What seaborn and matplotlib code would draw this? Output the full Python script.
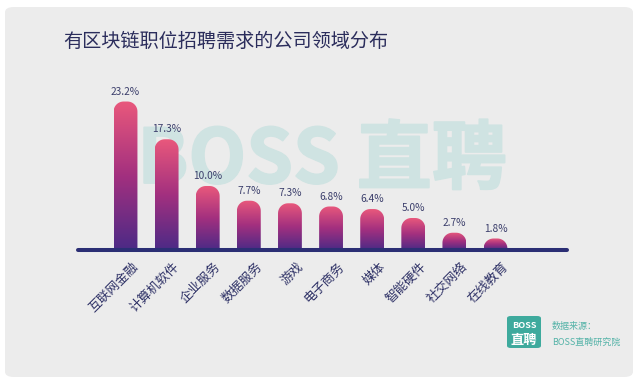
import numpy as np
import matplotlib
matplotlib.use("Agg")
import matplotlib.pyplot as plt
import matplotlib.patheffects as pe
import seaborn as sns
from matplotlib.path import Path
from matplotlib.patches import PathPatch, FancyBboxPatch
from matplotlib.colors import LinearSegmentedColormap
from matplotlib.transforms import ScaledTranslation

categories = ["互联网金融", "计算机软件", "企业服务", "数据服务", "游戏",
              "电子商务", "媒体", "智能硬件", "社交网络", "在线教育"]
shares = [23.2, 17.3, 10.0, 7.7, 7.3, 6.8, 6.4, 5.0, 2.7, 1.8]
title = "有区块链职位招聘需求的公司领域分布"

sns.set_theme(style="white")
plt.rcParams['font.family'] = ['Noto Sans CJK SC', 'DejaVu Sans']

W, H = 640, 382
fig = plt.figure(figsize=(W / 100, H / 100), dpi=100)
fig.patch.set_facecolor("white")

# grey card behind everything
card = FancyBboxPatch((5 / W, 5 / H), 628 / W, 370 / H,
                      boxstyle="round,pad=0,rounding_size=0.014",
                      transform=fig.transFigure, facecolor="#ececec",
                      edgecolor="none", zorder=-5)
fig.patches.append(card)

# watermark
wm_col = "#cfe3e2"
fig.text(322 / W, 1 - 161 / H, "BOSS 直聘", fontsize=54, fontweight="bold",
         color=wm_col, ha="center", va="center", zorder=-1,
         path_effects=[pe.withStroke(linewidth=1.3, foreground=wm_col)])

ax_left, ax_right, ax_base, ax_top = 78, 567, 250, 90
ax = fig.add_axes([ax_left / W, (H - ax_base) / H,
                   (ax_right - ax_left) / W, (ax_base - ax_top) / H])
ax.patch.set_visible(False)

sns.barplot(x=categories, y=shares, width=0.58, color="#a02f80", ax=ax)
ax.set_xlim(-1.156, 10.74)
ax.set_ylim(0, 25)

px_x = (ax_right - ax_left) / (10.74 + 1.156)
px_y = (ax_base - ax_top) / 25
r_px = 10
cmap = LinearSegmentedColormap.from_list("bar", ["#4c2a86", "#a3307f", "#e9587c"])
grad = np.linspace(0, 1, 256).reshape(-1, 1)

for p in ax.patches:
    x0, w, h = p.get_x(), p.get_width(), p.get_height()
    x1 = x0 + w
    rx = min(r_px / px_x, w / 2)
    ry = min(r_px / px_y, h)
    t = np.linspace(np.pi, np.pi / 2, 12)
    left_arc = [(x0 + rx + rx * np.cos(a), h - ry + ry * np.sin(a)) for a in t]
    t2 = np.linspace(np.pi / 2, 0, 12)
    right_arc = [(x1 - rx + rx * np.cos(a), h - ry + ry * np.sin(a)) for a in t2]
    verts = [(x0, 0)] + left_arc + right_arc + [(x1, 0), (x0, 0)]
    codes = [Path.MOVETO] + [Path.LINETO] * (len(verts) - 2) + [Path.CLOSEPOLY]
    clip = PathPatch(Path(verts, codes), transform=ax.transData,
                     facecolor="none", edgecolor="none")
    ax.add_patch(clip)
    im = ax.imshow(grad, cmap=cmap, origin="lower", aspect="auto",
                   extent=[x0, x1, 0, h], zorder=2)
    im.set_clip_path(clip)
    p.set_visible(False)

ax.set_xlim(-1.156, 10.74)
ax.set_ylim(0, 25)

for i, v in enumerate(shares):
    ax.annotate(f"{v:.1f}%", (i, v), xytext=(0, 3.5), textcoords="offset points",
                ha="center", va="bottom", fontsize=7.3, color="#3b3e6b",
                annotation_clip=False)

ax.axhline(0, color="#2b2e74", lw=2.9, zorder=4, clip_on=False)

sns.despine(ax=ax, left=True, bottom=True)
ax.set_yticks([])
ax.tick_params(axis="x", length=0, pad=0)
ax.set_xticks(range(len(categories)))
ax.set_xticklabels(categories, rotation=45, ha="right", va="center",
                   rotation_mode="anchor", fontsize=9.2, color="#2e3166")
offset = ScaledTranslation(11 / 100, -15 / 100, fig.dpi_scale_trans)
for lab in ax.get_xticklabels():
    lab.set_transform(lab.get_transform() + offset)
ax.set_xlabel("")
ax.set_ylabel("")

fig.text(63 / W, 1 - 41 / H, title, fontsize=13.8, color="#2b2d5c",
         ha="left", va="center")

# source logo
logo = FancyBboxPatch((507 / W, (H - 348) / H), 34 / W, 32 / H,
                      boxstyle="round,pad=0,rounding_size=0.006",
                      transform=fig.transFigure, facecolor="#3eaa9d",
                      edgecolor="none")
fig.patches.append(logo)
fig.text(524 / W, 1 - 325 / H, "BOSS", fontsize=6.5, fontweight="bold",
         color="white", ha="center", va="center")
fig.text(524 / W, 1 - 340 / H, "直聘", fontsize=9.5, fontweight="bold",
         color="white", ha="center", va="center")
fig.text(552 / W, 1 - 327 / H, "数据来源：", fontsize=6.5, color="#55b3a8",
         ha="left", va="center")
fig.text(552 / W, 1 - 342 / H, "BOSS直聘研究院", fontsize=6.5, color="#55b3a8",
         ha="left", va="center")

fig.savefig("out.png", dpi=100, facecolor=fig.get_facecolor())
